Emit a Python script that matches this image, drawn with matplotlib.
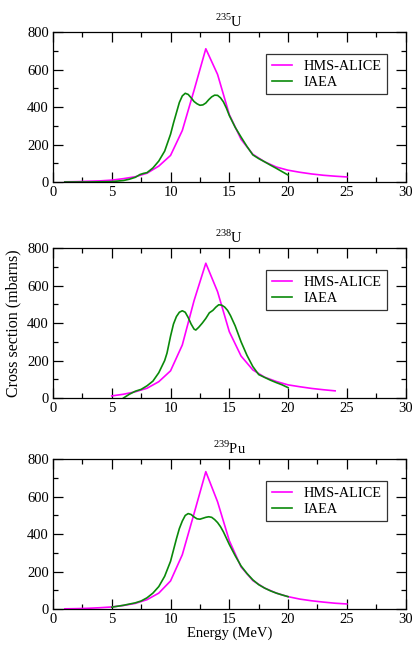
import matplotlib
matplotlib.use('Agg')
import matplotlib.pyplot as plt
from matplotlib.ticker import MultipleLocator

plt.rcParams['font.family'] = ['Liberation Serif', 'DejaVu Serif']
plt.rcParams['mathtext.fontset'] = 'custom'
plt.rcParams['mathtext.rm'] = 'Liberation Serif'

MAGENTA = '#ff00ff'
GREEN = '#0a8a0a'

# --- 235U ---
u235_hms_e = list(range(1, 26))
u235_hms = [1, 2, 4, 6, 10, 18, 28, 47, 85, 142, 275, 490, 712, 575, 360,
            228, 148, 108, 80, 63, 52, 43, 36, 31, 27]
u235_iaea_e = [1, 3, 5, 6, 6.5, 7, 7.4, 7.7, 8, 8.5, 9, 9.5, 10, 10.25, 10.5,
               10.75, 11, 11.25, 11.5, 11.75, 12, 12.25, 12.5, 12.75, 13,
               13.25, 13.5, 13.75, 14, 14.25, 14.5, 14.75, 15, 15.5, 16, 16.5,
               17, 17.5, 18, 18.5, 19, 19.5, 20]
u235_iaea = [0, 0, 2, 8, 15, 25, 40, 46, 50, 75, 112, 165, 255, 315, 370,
             425, 460, 474, 468, 450, 430, 418, 410, 412, 422, 440, 455, 464,
             463, 450, 428, 395, 355, 292, 240, 190, 145, 125, 108, 90, 73,
             55, 37]

# --- 238U ---
u238_hms_e = list(range(5, 25))
u238_hms = [11, 20, 33, 52, 87, 145, 283, 520, 720, 568, 354, 224, 150, 111,
            88, 70, 60, 51, 44, 38]
u238_iaea_e = [6, 6.5, 7, 7.5, 8, 8.5, 9, 9.5, 9.7, 10, 10.25, 10.5, 10.75, 11,
               11.25, 11.5, 11.75, 12, 12.15, 12.4, 12.7, 13, 13.3, 13.6, 13.85,
               14.1, 14.35, 14.6, 14.85, 15.1, 15.5, 16, 16.5, 17, 17.5, 18,
               18.5, 19, 19.5, 20]
u238_iaea = [0, 20, 36, 46, 65, 90, 135, 200, 240, 330, 395, 435, 458, 466,
             458, 430, 395, 368, 363, 378, 400, 425, 455, 468, 485, 498, 496,
             486, 468, 440, 385, 300, 228, 168, 125, 110, 95, 82, 70, 55]

# --- 239Pu ---
pu239_hms_e = list(range(1, 26))
pu239_hms = [1, 2, 4, 7, 11, 19, 30, 50, 85, 150, 290, 510, 734, 573, 365,
             225, 152, 112, 85, 66, 53, 44, 37, 31, 27]
pu239_iaea_e = [5, 6, 7, 7.5, 8, 8.5, 9, 9.5, 10, 10.25, 10.5, 10.75, 11,
                11.25, 11.5, 11.75, 12, 12.25, 12.5, 12.75, 13, 13.25, 13.5,
                13.75, 14, 14.25, 14.5, 15, 15.5, 16, 16.5, 17, 17.5, 18, 18.5,
                19, 19.5, 20]
pu239_iaea = [10, 20, 33, 43, 60, 85, 120, 175, 255, 315, 375, 430, 470, 500,
              510, 505, 492, 482, 480, 485, 490, 493, 490, 478, 462, 440, 412,
              345, 285, 230, 190, 156, 130, 112, 97, 85, 75, 66]

panels = [
    (r'$^{235}$U', u235_hms_e, u235_hms, u235_iaea_e, u235_iaea),
    (r'$^{238}$U', u238_hms_e, u238_hms, u238_iaea_e, u238_iaea),
    (r'$^{239}$Pu', pu239_hms_e, pu239_hms, pu239_iaea_e, pu239_iaea),
]

fig = plt.figure(figsize=(4.12, 6.47), dpi=100)
bottoms = [0.7187, 0.3849, 0.0587]
height = 0.2314

for i, (title, he, hv, ie, iv) in enumerate(panels):
    ax = fig.add_axes([0.1286, bottoms[i], 0.856, height])
    ax.plot(he, hv, color=MAGENTA, lw=1.2, label='HMS-ALICE')
    ax.plot(ie, iv, color=GREEN, lw=1.2, label='IAEA')
    ax.set_xlim(0, 30)
    ax.set_ylim(0, 800)
    ax.xaxis.set_major_locator(MultipleLocator(5))
    ax.xaxis.set_minor_locator(MultipleLocator(2.5))
    ax.yaxis.set_major_locator(MultipleLocator(200))
    ax.yaxis.set_minor_locator(MultipleLocator(100))
    ax.tick_params(which='both', direction='in', top=True, right=True,
                   labelsize=10.5, width=0.9, pad=3)
    ax.tick_params(which='major', length=7)
    ax.tick_params(which='minor', length=3.6)
    for sp in ax.spines.values():
        sp.set_linewidth(0.9)
    ax.set_title(title, fontsize=10.5, pad=4)
    leg = ax.legend(loc='upper right', bbox_to_anchor=(0.947, 0.855),
                    borderaxespad=0, fontsize=10.3, frameon=True, fancybox=False,
                    handlelength=1.4, handletextpad=0.8, borderpad=0.4,
                    labelspacing=0.2)
    leg.get_frame().set_edgecolor('black')
    leg.get_frame().set_linewidth(0.9)
    if i == 1:
        ax.set_ylabel('Cross section (mbarns)', fontsize=11.5, labelpad=4)
    if i == 2:
        ax.set_xlabel('Energy (MeV)', fontsize=10.5, labelpad=0)

fig.savefig('out.png', dpi=100)
